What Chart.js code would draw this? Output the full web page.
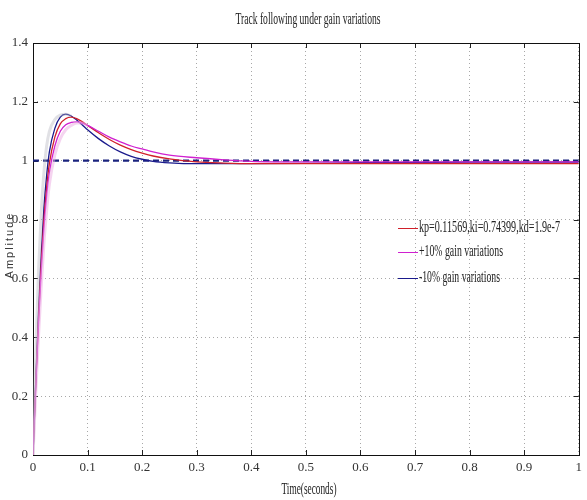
<!DOCTYPE html>
<html>
<head>
<meta charset="utf-8">
<script src="https://cdn.jsdelivr.net/npm/chart.js@4.4.0/dist/chart.umd.min.js"></script>
<style>
  html, body { margin: 0; padding: 0; background: #fff; }
  #wrap { width: 587px; height: 500px; }
</style>
</head>
<body>
<div id="wrap"><canvas id="stepChart" width="587" height="500"></canvas></div>
<script>
// Time axis (seconds) and responses
const timeS = [0, 0.005, 0.01, 0.015, 0.02, 0.025, 0.03, 0.04, 0.05, 0.06, 0.07, 0.08, 0.09, 0.1,
               0.12, 0.14, 0.16, 0.18, 0.2, 0.22, 0.25, 0.3, 0.35, 0.4, 0.5, 0.6, 0.7, 0.8, 0.9, 1.0];

const nominal = [0, 0.24, 0.46, 0.65, 0.80, 0.91, 0.99, 1.08, 1.125, 1.143, 1.148, 1.143, 1.133, 1.12,
                 1.095, 1.072, 1.053, 1.038, 1.026, 1.016, 1.006, 0.996, 0.992, 0.99, 0.99, 0.99, 0.99, 0.99, 0.99, 0.99];
const plus10 = [0, 0.23, 0.44, 0.62, 0.77, 0.88, 0.96, 1.05, 1.10, 1.122, 1.13, 1.132, 1.128, 1.12,
                1.10, 1.08, 1.064, 1.05, 1.04, 1.03, 1.019, 1.01, 1.003, 0.998, 0.996, 0.996, 0.996, 0.996, 0.996, 0.996];
const minus10 = [0, 0.25, 0.48, 0.68, 0.84, 0.95, 1.03, 1.11, 1.148, 1.158, 1.152, 1.138, 1.122, 1.105,
                 1.075, 1.05, 1.03, 1.015, 1.005, 0.998, 0.993, 0.99, 0.99, 0.99, 0.991, 0.993, 0.994, 0.995, 0.995, 0.995];
// faint ghost traces near the start
const ghostGray = [0, 0.35, 0.62, 0.82, 0.96, 1.05, 1.10, 1.14, 1.155, 1.158, 1.152, null, null, null,
                   null, null, null, null, null, null, null, null, null, null, null, null, null, null, null, null];
const ghostPink = [0, 0.21, 0.40, 0.57, 0.72, 0.83, 0.92, 1.02, 1.075, 1.105, 1.12, 1.128, 1.128, 1.12,
                   null, null, null, null, null, null, null, null, null, null, null, null, null, null, null, null];
const reference = timeS.map(() => 1);

const xTicks = [0, 0.1, 0.2, 0.3, 0.4, 0.5, 0.6, 0.7, 0.8, 0.9, 1];
const yTicks = [0, 0.2, 0.4, 0.6, 0.8, 1, 1.2, 1.4];

const seriesLabels = ['kp=0.11569,ki=0.74399,kd=1.9e-7', '+10% gain variations', '-10% gain variations'];
const seriesColors = ['#d0202a', '#d020d0', '#1a1a8c'];

const toXY = arr => timeS.map((t, i) => ({ x: t, y: arr[i] }));

// draws the MATLAB-like frame, inward ticks, title, axis titles and legend
const decorPlugin = {
  id: 'decor',
  beforeDatasetsDraw(chart) {
    const { ctx, chartArea: a, scales } = chart;
    ctx.save();
    ctx.strokeStyle = '#222';
    ctx.lineWidth = 1;
    xTicks.forEach(v => {
      const px = Math.round(scales.x.getPixelForValue(v)) + 0.5;
      ctx.beginPath();
      ctx.moveTo(px, a.bottom); ctx.lineTo(px, a.bottom - 5);
      ctx.moveTo(px, a.top); ctx.lineTo(px, a.top + 5);
      ctx.stroke();
    });
    yTicks.forEach(v => {
      const py = Math.round(scales.y.getPixelForValue(v)) + 0.5;
      ctx.beginPath();
      ctx.moveTo(a.left, py); ctx.lineTo(a.left + 5, py);
      ctx.moveTo(a.right, py); ctx.lineTo(a.right - 5, py);
      ctx.stroke();
    });
    ctx.strokeStyle = '#111';
    ctx.strokeRect(Math.round(a.left) + 0.5, Math.round(a.top) + 0.5,
                   Math.round(a.right - a.left), Math.round(a.bottom - a.top));
    ctx.restore();
  },
  afterDraw(chart) {
    const { ctx } = chart;
    const squeezeText = (txt, cx, cy, font, width, align) => {
      ctx.save();
      ctx.font = font;
      const w = ctx.measureText(txt).width;
      const k = width / w;
      ctx.translate(cx, cy);
      ctx.scale(k, 1);
      ctx.textAlign = align;
      ctx.textBaseline = 'middle';
      ctx.fillStyle = '#222';
      ctx.fillText(txt, 0, 0);
      ctx.restore();
    };
    squeezeText('Track following under gain variations', 308, 20, '16px "Liberation Serif"', 145, 'center');
    squeezeText('Time(seconds)', 309, 490, '16px "Liberation Serif"', 55, 'center');

    ctx.save();
    ctx.translate(10, 245);
    ctx.rotate(-Math.PI / 2);
    ctx.font = '11px "Liberation Sans"';
    ctx.fillStyle = '#333';
    ctx.textAlign = 'center';
    ctx.textBaseline = 'middle';
    if ('letterSpacing' in ctx) ctx.letterSpacing = '2px';
    ctx.fillText('Amplitude', 0, 0);
    ctx.restore();

    // legend inside plot area
    const rows = [228, 252, 278];
    const widths = [141, 84, 81];
    seriesLabels.forEach((lab, i) => {
      ctx.save();
      ctx.strokeStyle = seriesColors[i];
      ctx.lineWidth = 1;
      ctx.beginPath();
      ctx.moveTo(398, rows[i] + 0.5);
      ctx.lineTo(418, rows[i] + 0.5);
      ctx.stroke();
      ctx.restore();
      squeezeText(lab, 419, rows[i], '16px "Liberation Serif"', widths[i], 'left');
    });
  }
};

const lineDs = (label, arr, color, width, extra) => Object.assign({
  label: label,
  data: toXY(arr),
  borderColor: color,
  borderWidth: width,
  pointRadius: 0,
  fill: false,
  cubicInterpolationMode: 'monotone',
  spanGaps: false
}, extra || {});

new Chart(document.getElementById('stepChart').getContext('2d'), {
  type: 'line',
  data: {
    datasets: [
      lineDs('ghost gray', ghostGray, 'rgba(180,180,190,0.4)', 3),
      lineDs('ghost pink', ghostPink, 'rgba(235,170,225,0.5)', 3),
      lineDs(seriesLabels[1], plus10, seriesColors[1], 1.3),
      lineDs(seriesLabels[0], nominal, seriesColors[0], 1.3),
      lineDs(seriesLabels[2], minus10, seriesColors[2], 1.3),
      lineDs('step', reference, '#1a237e', 2.2, { borderDash: [6, 4], cubicInterpolationMode: 'default', tension: 0 })
    ]
  },
  options: {
    responsive: false,
    animation: false,
    layout: { padding: { top: 43, right: 4, left: 0, bottom: 0 } },
    plugins: {
      legend: { display: false },
      title: { display: false },
      tooltip: { enabled: false }
    },
    scales: {
      x: {
        type: 'linear',
        min: 0,
        max: 1,
        afterBuildTicks: s => { s.ticks = xTicks.map(v => ({ value: v })); },
        afterFit: s => { s.height = 45; },
        ticks: {
          callback: v => String(v),
          color: '#333',
          padding: 5,
          maxRotation: 0,
          font: { family: '"Liberation Serif"', size: 13 }
        },
        grid: { color: '#a8a8a8', lineWidth: 1, drawTicks: false },
        border: { display: false, dash: [1, 3] }
      },
      y: {
        type: 'linear',
        min: 0,
        max: 1.4,
        afterBuildTicks: s => { s.ticks = yTicks.map(v => ({ value: v })); },
        afterFit: s => { s.width = 33; },
        ticks: {
          callback: v => String(v),
          color: '#333',
          padding: 5,
          font: { family: '"Liberation Serif"', size: 13 }
        },
        grid: { color: '#a8a8a8', lineWidth: 1, drawTicks: false },
        border: { display: false, dash: [1, 3] }
      }
    }
  },
  plugins: [decorPlugin]
});
</script>
</body>
</html>
